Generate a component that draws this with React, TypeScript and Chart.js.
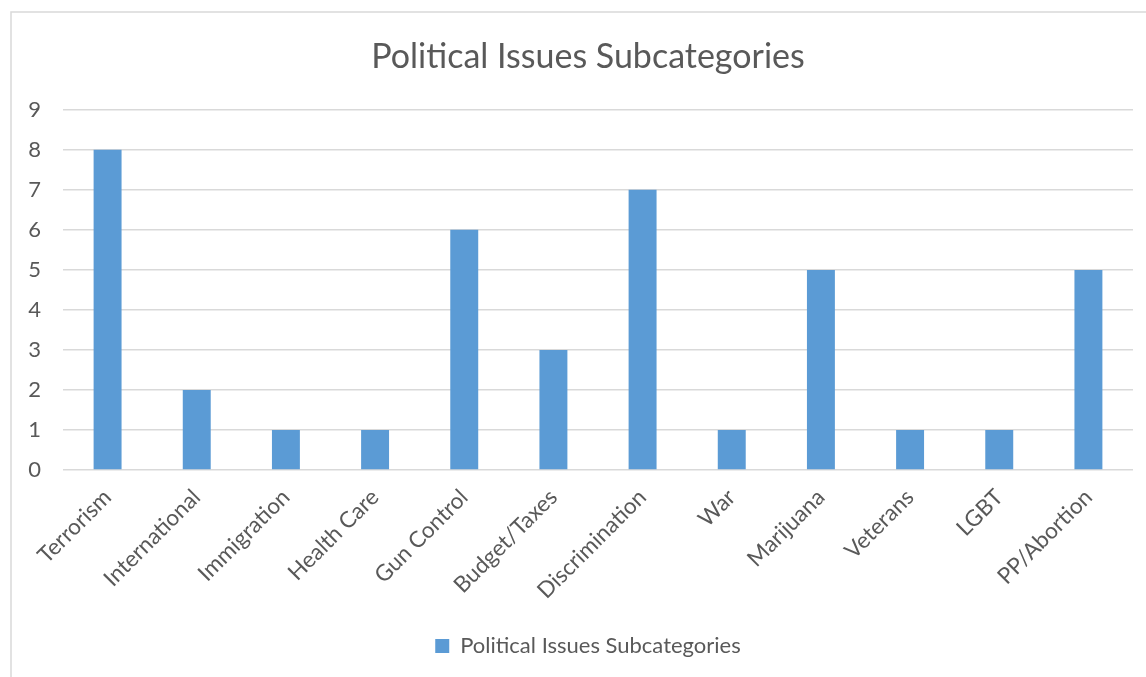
import React, { useEffect, useRef } from "react";
import { Chart, registerables } from "chart.js";

Chart.register(...registerables);

const categories: string[] = [
  "Terrorism",
  "International",
  "Immigration",
  "Health Care",
  "Gun Control",
  "Budget/Taxes",
  "Discrimination",
  "War",
  "Marijuana",
  "Veterans",
  "LGBT",
  "PP/Abortion",
];

const counts: number[] = [8, 2, 1, 1, 6, 3, 7, 1, 5, 1, 1, 5];

const seriesName = "Political Issues Subcategories";
const chartTitle = "Political Issues Subcategories";

const FONT = "Lato, 'Open Sans', sans-serif";
const TEXT = "#595959";
const GRID = "#D9D9D9";
const BAR = "#5B9BD5";

// Light frame around the whole chart area, like an office chart object.
const framePlugin = {
  id: "frame",
  beforeDraw(chart: Chart) {
    const { ctx, width, height } = chart;
    ctx.save();
    ctx.fillStyle = "#ffffff";
    ctx.fillRect(0, 0, width, height);
    ctx.strokeStyle = GRID;
    ctx.lineWidth = 1.5;
    ctx.beginPath();
    ctx.moveTo(11, height + 5);
    ctx.lineTo(11, 12);
    ctx.lineTo(width + 5, 12);
    ctx.stroke();
    ctx.restore();
  },
};

export default function App() {
  const canvasRef = useRef<HTMLCanvasElement | null>(null);

  useEffect(() => {
    const canvas = canvasRef.current;
    if (!canvas) return;
    const chart = new Chart(canvas, {
      type: "bar",
      data: {
        labels: categories,
        datasets: [
          {
            label: seriesName,
            data: counts,
            backgroundColor: BAR,
            borderWidth: 0,
            barPercentage: 0.3135,
            categoryPercentage: 1,
          },
        ],
      },
      options: {
        animation: false,
        responsive: false,
        maintainAspectRatio: false,
        // The frame is wider than the visible window, so title and legend
        // are centred on the full frame rather than on the plot.
        layout: { padding: { left: 20, right: -10, top: 0, bottom: 10 } },
        plugins: {
          title: {
            display: true,
            text: chartTitle,
            color: TEXT,
            font: { family: FONT, size: 34, weight: "normal", lineHeight: 1.2 },
            padding: { top: 37, bottom: 32 },
          },
          legend: {
            display: true,
            position: "bottom",
            labels: {
              color: TEXT,
              font: { family: FONT, size: 22 },
              boxWidth: 14,
              boxHeight: 14,
              padding: 10,
            },
          },
          tooltip: { enabled: false },
        },
        scales: {
          x: {
            grid: { display: false, drawTicks: false },
            border: { display: false },
            ticks: {
              color: TEXT,
              font: { family: FONT, size: 22.5 },
              minRotation: 45,
              maxRotation: 45,
              autoSkip: false,
              padding: 14,
            },
            afterFit(scale: any) {
              scale.height = 155;
            },
          },
          y: {
            min: 0,
            max: 9,
            grid: { color: GRID, lineWidth: 1.5, drawTicks: false },
            border: { display: false },
            ticks: {
              color: TEXT,
              font: { family: FONT, size: 22 },
              stepSize: 1,
              padding: 22,
            },
            afterFit(scale: any) {
              scale.width = 43;
            },
          },
          // Empty right-hand margin between the plot and the frame edge.
          yRight: {
            type: "linear",
            position: "right",
            grid: { display: false, drawTicks: false },
            border: { display: false },
            ticks: { display: false },
            afterFit(scale: any) {
              scale.width = 23;
            },
          },
        },
      },
      plugins: [framePlugin],
    });
    return () => chart.destroy();
  }, []);

  return (
    <div style={{ position: "fixed", left: 0, top: 0, width: 1146, height: 677 }}>
      <canvas ref={canvasRef} width={1146} height={677} style={{ display: "block" }} />
    </div>
  );
}
